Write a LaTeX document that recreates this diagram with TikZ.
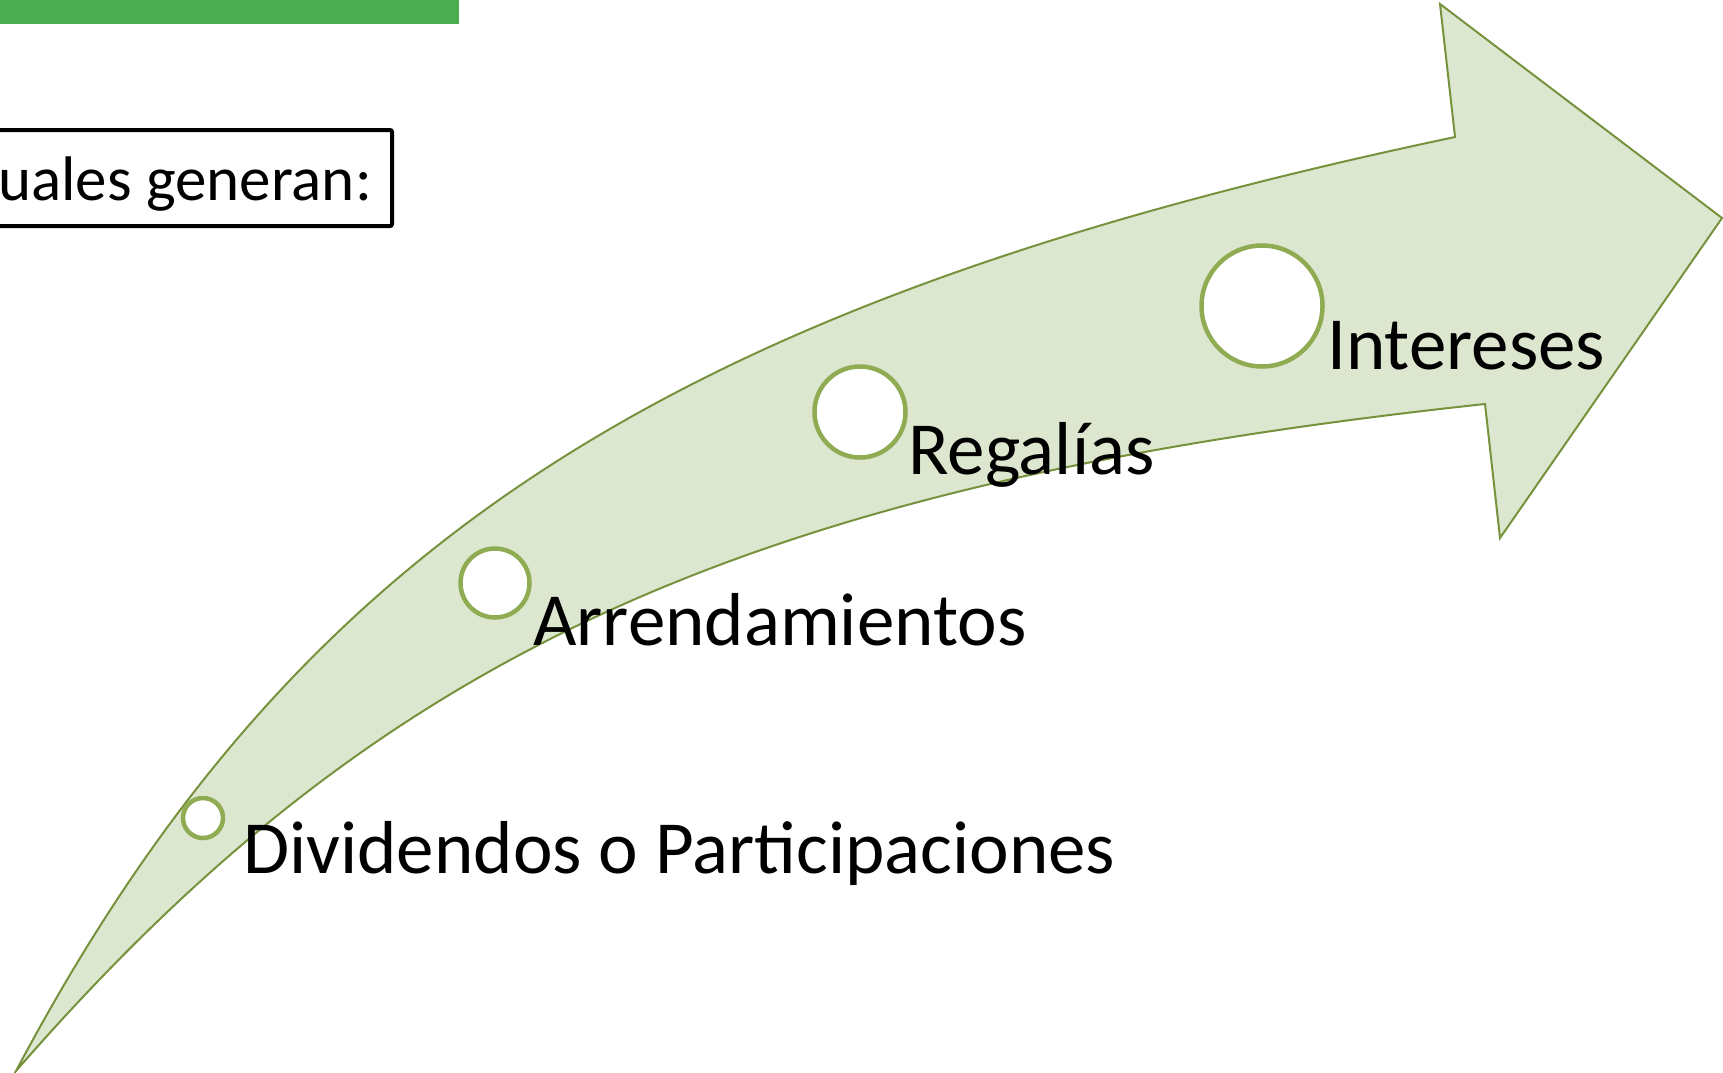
\documentclass[tikz,border=0pt]{standalone}
\usepackage{fontspec}
\setmainfont{Carlito}
\definecolor{barra}{RGB}{75,173,80}
\definecolor{relleno}{RGB}{221,231,208}
\definecolor{borde}{RGB}{118,146,60}
\definecolor{anillo}{RGB}{143,172,83}

\begin{document}
\begin{tikzpicture}[x=1pt,y=-1pt,
        flecha/.style={fill=relleno, draw=borde, line width=2pt},
        punto/.style={circle, draw=anillo, fill=white, line width=4.5pt, inner sep=0pt},
        etiqueta/.style={anchor=base west, inner sep=0pt, font=\fontsize{75}{90}\selectfont}]
    \useasboundingbox (0,0) rectangle (1723,1072);
    \fill[barra] (-5,-5) rectangle (459,24);
    \node[anchor=base east, inner sep=0pt, font=\fontsize{63}{75}\selectfont] (encabezado) at (372,200) {uales generan:};
    \draw[line width=4pt, rounded corners=2pt] (-20,130) rectangle (392,226);
    \filldraw[flecha] (16,1071) .. controls (297,541) and (673,302) .. (1455,137)
        -- (1440,4) -- (1722,218) -- (1500,538) -- (1485,404)
        .. controls (740,484) and (377,656) .. (16,1071) -- cycle;
    \node[punto, minimum size=40pt] (dividendos) at (203,818) {};
    \node[punto, minimum size=69pt] (arrendamientos) at (495,583) {};
    \node[punto, minimum size=91pt] (regalias) at (860,412) {};
    \node[punto, minimum size=121pt] (intereses) at (1262,306) {};
    \node[etiqueta] (tdividendos) at (243,873) {Dividendos o Participaciones};
    \node[etiqueta] (tarrendamientos) at (533,645) {Arrendamientos};
    \node[etiqueta] (tregalias) at (908,474) {Regalías};
    \node[etiqueta] (tintereses) at (1327,369) {Intereses};
\end{tikzpicture}
\end{document}
